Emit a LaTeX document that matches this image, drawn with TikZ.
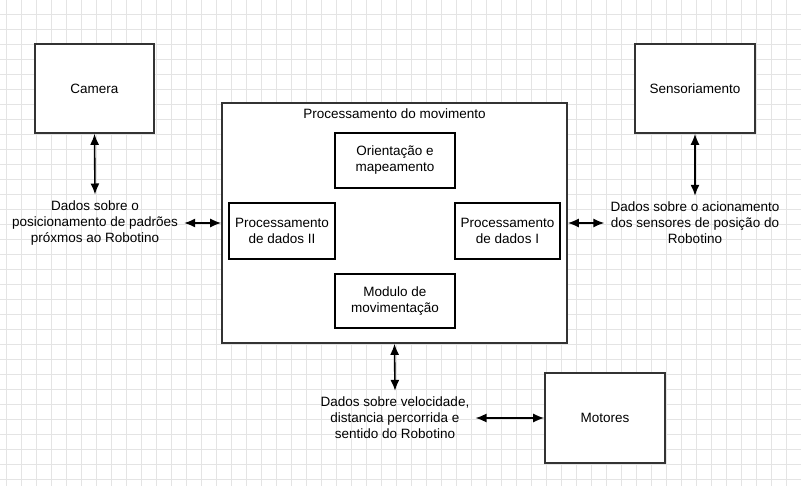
\documentclass[tikz,border=0pt]{standalone}
\usepackage{fontspec}
\setmainfont{Liberation Sans}
\usetikzlibrary{positioning}
\usetikzlibrary{arrows.meta}

\definecolor{gridgray}{HTML}{E4E4E4}
\definecolor{edgegray}{HTML}{333333}

\begin{document}
\begin{tikzpicture}[x=1pt,y=-1pt,
font=\fontsize{13.5}{16}\selectfont,
gridline/.style={draw=gridgray,line width=0.8pt},
bigbox/.style={rectangle,draw=edgegray,fill=white,line width=1.6pt,align=center,inner sep=0},
subbox/.style={rectangle,draw=black,fill=white,line width=1.4pt,align=center,inner sep=0},
infotxt/.style={align=center,inner sep=6pt},
link/.style={{Latex[length=11pt,width=9pt]}-{Latex[length=11pt,width=9pt]},line width=1.6pt}]
\useasboundingbox[fill=white] (0,0) rectangle (801,486);
\foreach \gx in {6,21,...,801}{\draw[gridline] (\gx,0) -- (\gx,486);}
\foreach \gy in {14,29,...,486}{\draw[gridline] (0,\gy) -- (801,\gy);}
%==================
\node[bigbox,minimum width=119pt,minimum height=89pt] (cam) at (94.5,88.5) {Camera};
\node[bigbox,minimum width=120pt,minimum height=89pt] (sens) at (695,88.5) {Sensoriamento};
\node[bigbox,minimum width=120pt,minimum height=90pt] (mot) at (605,418) {Motores};
%==================
\node[bigbox,minimum width=345pt,minimum height=240pt,
      label={[anchor=north,inner sep=6pt]north:Processamento do movimento}] (proc) at (394.5,223) {};
\node[subbox,minimum width=120pt,minimum height=55pt] (orient) at (395,160.5) {Orientação e\\mapeamento};
\node[subbox,minimum width=106pt,minimum height=56pt] (dadosII) at (282,231) {Processamento\\de dados II};
\node[subbox,minimum width=105pt,minimum height=56pt] (dadosI) at (507.5,231) {Processamento\\de dados I};
\node[subbox,minimum width=120pt,minimum height=54pt] (modulo) at (395,301) {Modulo de\\movimentação};
% ===================
\node[infotxt] (infocam) at (95,223) {Dados sobre o\\posicionamento de padrões\\próxmos ao Robotino};
\node[infotxt] (infosens) at (695,223) {Dados sobre o acionamento\\dos sensores de posição do\\Robotino};
\node[infotxt] (infomot) at (395,418) {Dados sobre velocidade,\\distancia percorrida e\\sentido do Robotino};
% ===================
\draw[link] (cam.south) -- (infocam.north);
\draw[link] (sens.south) -- (infosens.north);
\draw[link] (infocam.east) -- (proc.west);
\draw[link] (proc.east) -- (infosens.west);
\draw[link] (proc.south) -- (infomot.north);
\draw[link] (infomot.east) -- (mot.west);
\end{tikzpicture}
\end{document}
